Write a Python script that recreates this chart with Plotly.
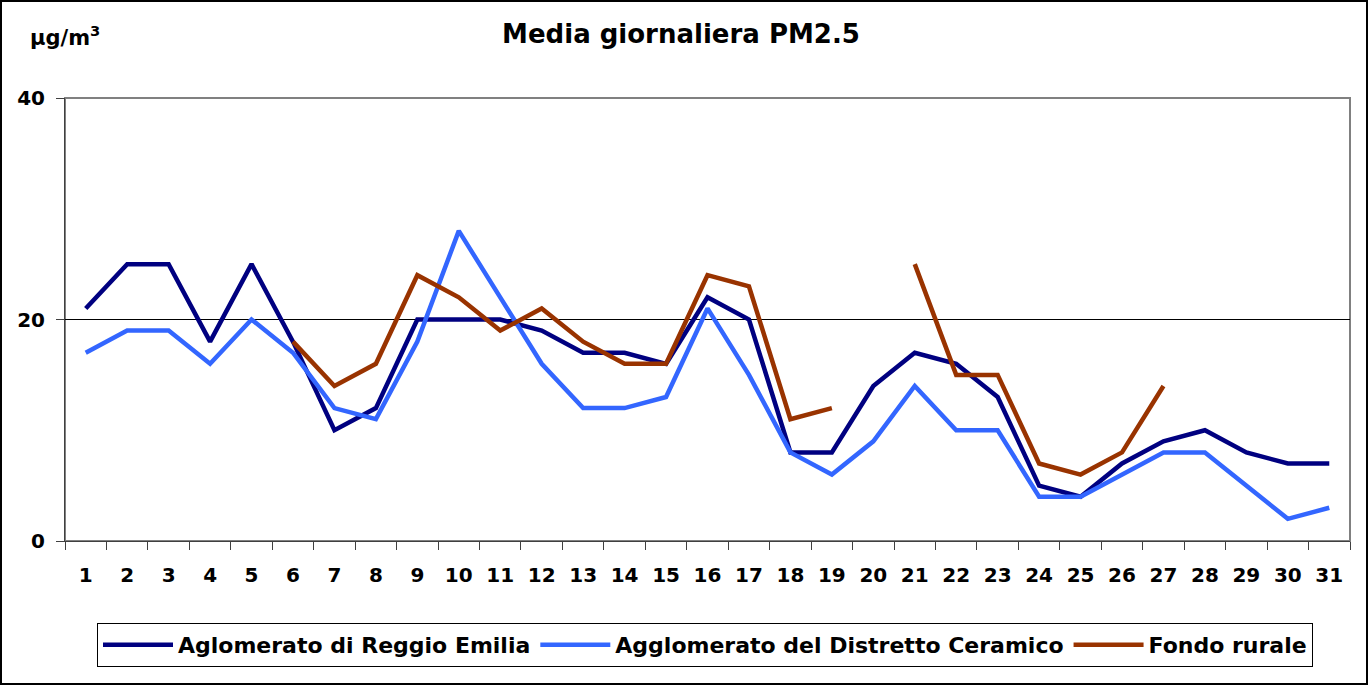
import plotly.graph_objects as go

days = [str(d) for d in range(1, 32)]
reggio = [21, 25, 25, 18, 25, 18, 10, 12, 20, 20, 20, 19, 17, 17, 16, 22, 20, 8, 8, 14,
          17, 16, 13, 5, 4, 7, 9, 10, 8, 7, 7]
distretto = [17, 19, 19, 16, 20, 17, 12, 11, 18, 28, 22, 16, 12, 12, 13, 21, 15, 8, 6, 9,
             14, 10, 10, 4, 4, 6, 8, 8, 5, 2, 3]
rurale = [None, None, None, None, None, 18, 14, 16, 24, 22, 19, 21, 18, 16, 16, 24, 23, 11, 12, None,
          25, 15, 15, 7, 6, 8, 14, None, None, None, None]
y_ticks = [0, 20, 40]

series = [
    ("Aglomerato di Reggio Emilia", reggio, "#000080"),
    ("Agglomerato del Distretto Ceramico", distretto, "#3366FF"),
    ("Fondo rurale", rurale, "#993300"),
]

FONT = "DejaVu Sans, Arial, sans-serif"

fig = go.Figure()
for name, vals, col in series:
    fig.add_trace(go.Scatter(x=days, y=vals, name=name, mode="lines",
                             line=dict(color=col, width=4.5), connectgaps=False))

L, R, T, B = 65, 19, 98, 145
W, H = 1369, 686
pw, ph = W - L - R, H - T - B

def px_x(x):
    return (x - L) / pw

def px_y(y):
    return (H - B - y) / ph

fig.update_layout(
    width=W, height=H,
    margin=dict(l=L, r=R, t=T, b=B, autoexpand=False),
    paper_bgcolor="white", plot_bgcolor="white",
    font=dict(family=FONT, color="black"),
    title=dict(text="Media giornaliera PM2.5", xref="container", yref="container",
               x=681 / W, xanchor="center", y=1 - 34 / H, yanchor="middle",
               font=dict(size=26, family=FONT, weight="bold")),
    showlegend=True,
    legend=dict(orientation="h", x=px_x(705), xanchor="center", y=px_y(623), yanchor="top",
                bordercolor="black", borderwidth=1, bgcolor="white",
                font=dict(size=22, family=FONT, weight="bold"), itemwidth=70, tracegroupgap=0),
    xaxis=dict(type="category", range=[-0.5, 30.5], showgrid=False, zeroline=False,
               showline=True, linecolor="#404040", linewidth=1,
               ticks="outside", tickson="boundaries", ticklen=8, tickcolor="#404040",
               ticklabelstandoff=16,
               tickfont=dict(size=20, family=FONT, weight="bold")),
    yaxis=dict(range=[0, 40], tickvals=y_ticks, showgrid=False, zeroline=False,
               showline=True, linecolor="#404040", linewidth=1,
               ticks="outside", ticklen=8, tickcolor="#404040",
               ticklabelstandoff=7,
               tickfont=dict(size=20, family=FONT, weight="bold")),
    shapes=[
        dict(type="rect", xref="paper", yref="paper", x0=0, x1=1, y0=0, y1=1,
             line=dict(color="#808080", width=2), layer="below"),
        dict(type="line", xref="paper", yref="y", x0=0, x1=1, y0=20, y1=20,
             line=dict(color="black", width=1), layer="below"),
        dict(type="rect", xref="paper", yref="paper",
             x0=px_x(1), x1=px_x(1367), y0=px_y(684), y1=px_y(1),
             line=dict(color="black", width=2), layer="below"),
    ],
    annotations=[
        dict(text="µg/m<sup>3</sup>", xref="paper", yref="paper",
             x=px_x(28), xanchor="left", y=px_y(36), yanchor="middle",
             showarrow=False, font=dict(size=21, family=FONT, weight="bold")),
    ],
)

fig.write_html("out.html", config={"displayModeBar": False},
               post_script="document.body.style.margin='0';")
